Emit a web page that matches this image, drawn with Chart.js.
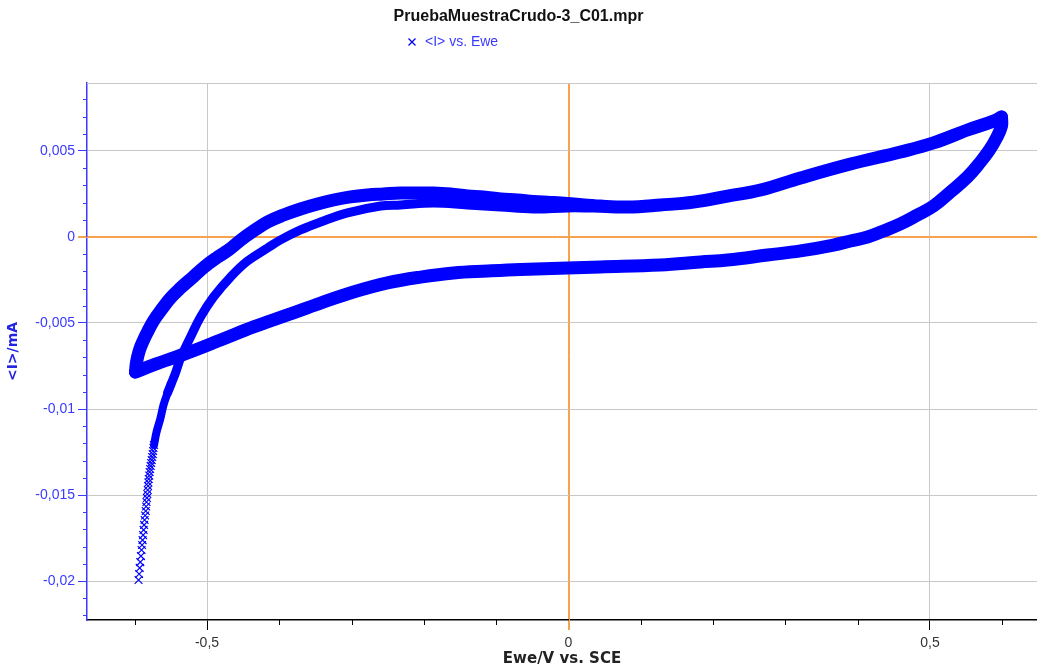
<!DOCTYPE html>
<html>
<head>
<meta charset="utf-8">
<title>PruebaMuestraCrudo-3_C01.mpr</title>
<script src="https://cdn.jsdelivr.net/npm/chart.js"></script>
<style>
  body { margin: 0; background: #fff; overflow: hidden; }
  #wrap { width: 1037px; height: 670px; }
</style>
</head>
<body>
<div id="wrap"><canvas id="cv"></canvas></div>
<script>
// Ewe (V vs. SCE) and <I> (mA)

// first points of the scan, current still changing fast
const startEwe = [-0.5947, -0.5939, -0.5931, -0.5923, -0.5914, -0.5906, -0.5898, -0.5891, -0.5884, -0.5877, -0.5870,
  -0.5863, -0.5856, -0.5848, -0.5842, -0.5837, -0.5831, -0.5826, -0.5820, -0.5815, -0.5811, -0.5806,
  -0.5799, -0.5793, -0.5786, -0.5779, -0.5772, -0.5765, -0.5758, -0.5751, -0.5746, -0.5740, -0.5733];
const startI = [-0.01994, -0.01959, -0.01924, -0.01890, -0.01855, -0.01820, -0.01791, -0.01762, -0.01733, -0.01703, -0.01674,
  -0.01645, -0.01619, -0.01593, -0.01567, -0.01541, -0.01517, -0.01494, -0.01471, -0.01448, -0.01427, -0.01407,
  -0.01387, -0.01366, -0.01349, -0.01331, -0.01314, -0.01297, -0.01279, -0.01262, -0.01244, -0.01227, -0.01209];

// first anodic sweep (inner curve)
const firstEwe = [-0.5733, -0.5698, -0.5643, -0.5602, -0.5546, -0.5491, -0.5436, -0.5367, -0.5297, -0.5228, -0.5090,
  -0.4910, -0.4675, -0.4440, -0.4163, -0.3983, -0.3707, -0.3430, -0.3057, -0.2600, -0.2324, -0.1867, -0.1397,
  -0.0941, -0.0484, -0.0014, 0.0443, 0.0816, 0.1272, 0.1729, 0.2199, 0.2656, 0.3209, 0.3900, 0.4592, 0.5048,
  0.5519, 0.5878, 0.5989];
const firstI = [-0.01209, -0.01134, -0.01052, -0.00977, -0.00907, -0.00849, -0.00791, -0.00704, -0.00640, -0.00581, -0.00465,
  -0.00349, -0.00233, -0.00140, -0.00064, -0.00017, 0.00041, 0.00087, 0.00140, 0.00180, 0.00186, 0.00198, 0.00186,
  0.00174, 0.00163, 0.00169, 0.00169, 0.00174, 0.00186, 0.00203, 0.00238, 0.00273, 0.00343, 0.00424, 0.00494, 0.00547,
  0.00622, 0.00674, 0.00698];

// cathodic sweeps
const backEwe = [0.5989, 0.5989, 0.5920, 0.5823, 0.5698, 0.5519, 0.5284, 0.5048, 0.4827, 0.4592, 0.4357, 0.4136,
  0.3900, 0.3665, 0.3209, 0.2752, 0.2199, 0.1826, 0.1272, 0.0443, -0.0014, -0.0664, -0.1120, -0.1591, -0.2047,
  -0.2503, -0.2974, -0.3430, -0.3887, -0.4357, -0.4813, -0.5270, -0.5740, -0.5989];
const backI = [0.00698, 0.00645, 0.00576, 0.00506, 0.00436, 0.00349, 0.00262, 0.00180, 0.00128, 0.00076, 0.00035, 0,
  -0.00023, -0.00047, -0.00081, -0.00105, -0.00134, -0.00145, -0.00163, -0.00174, -0.00180, -0.00189, -0.00198, -0.00209, -0.00233,
  -0.00267, -0.00320, -0.00384, -0.00453, -0.00523, -0.00599, -0.00674, -0.00744, -0.00785];

// following anodic sweeps (outer curve)
const nextEwe = [-0.5989, -0.5975, -0.5934, -0.5878, -0.5823, -0.5740, -0.5643, -0.5505, -0.5367, -0.5194, -0.5038,
  -0.4871, -0.4703, -0.4530, -0.4357, -0.4163, -0.3942, -0.3707, -0.3472, -0.3250, -0.3015, -0.2780, -0.2559,
  -0.2324, -0.2089, -0.1867, -0.1632, -0.1397, -0.1176, -0.0941, -0.0705, -0.0484, -0.0249, -0.0014, 0.0443,
  0.0816, 0.1272, 0.1729, 0.2199, 0.2656, 0.3209, 0.3900, 0.4592, 0.5048, 0.5519, 0.5878, 0.5989];
const nextI = [-0.00785, -0.00727, -0.00657, -0.00599, -0.00552, -0.00488, -0.00430, -0.00355, -0.00297, -0.00233, -0.00174,
  -0.00122, -0.00076, -0.00017, 0.00035, 0.00087, 0.00128, 0.00163, 0.00192, 0.00215, 0.00233, 0.00244, 0.00250,
  0.00256, 0.00256, 0.00256, 0.00250, 0.00238, 0.00233, 0.00221, 0.00215, 0.00206, 0.00201, 0.00195, 0.00180,
  0.00174, 0.00186, 0.00203, 0.00238, 0.00273, 0.00343, 0.00424, 0.00494, 0.00547, 0.00622, 0.00674, 0.00698];

const xTicks = [-0.5, 0, 0.5];
const yTicks = [0.005, 0, -0.005, -0.01, -0.015, -0.02];
const xMinor = [-0.6, -0.4, -0.3, -0.2, -0.1, 0.1, 0.2, 0.3, 0.4, 0.6];
const yMinor = [0.008, 0.007, 0.006, 0.004, 0.003, 0.002, 0.001, -0.001, -0.002, -0.003, -0.004,
  -0.006, -0.007, -0.008, -0.009, -0.011, -0.012, -0.013, -0.014, -0.016, -0.017, -0.018, -0.019, -0.021, -0.022];

const font = "'Liberation Sans', Arial, sans-serif";
const wide = "'DejaVu Sans', sans-serif";
const blue = '#0000ff';
const axisBlue = '#3a3aff';
const orange = '#f7a24f';
const gray = '#c8c8c8';

const pts = (xs, ys) => xs.map((x, i) => ({ x: x, y: ys[i] }));
const fmt = v => String(v).replace('.', ',');
const isZero = c => c.tick && Math.abs(c.tick.value) < 1e-12;

function band(xs, ys, width) {
  return {
    data: pts(xs, ys),
    showLine: true,
    borderColor: blue,
    backgroundColor: blue,
    borderWidth: width,
    borderCapStyle: 'round',
    borderJoinStyle: 'round',
    pointRadius: 0,
    tension: 0.4
  };
}

// zero lines, minor ticks, top frame line and the legend line
const extras = {
  id: 'extras',
  beforeDatasetsDraw(chart) {
    const { ctx, chartArea: a, scales } = chart;
    const x0 = Math.round(scales.x.getPixelForValue(0)) + 0.5;
    const y0 = Math.round(scales.y.getPixelForValue(0)) + 0.5;
    ctx.save();
    ctx.lineWidth = 1;
    ctx.strokeStyle = orange;
    ctx.beginPath();
    ctx.moveTo(x0, a.top); ctx.lineTo(x0, a.bottom + 10);
    ctx.moveTo(a.left - 9, y0); ctx.lineTo(a.right, y0);
    ctx.stroke();
    ctx.restore();
  },
  afterDraw(chart) {
    const { ctx, chartArea: a, scales } = chart;
    ctx.save();
    ctx.lineWidth = 1;
    ctx.strokeStyle = gray;
    ctx.beginPath();
    ctx.moveTo(a.left, a.top + 0.5);
    ctx.lineTo(a.right, a.top + 0.5);
    ctx.stroke();

    ctx.strokeStyle = '#000';
    ctx.beginPath();
    xMinor.forEach(v => {
      const px = Math.round(scales.x.getPixelForValue(v)) + 0.5;
      ctx.moveTo(px, a.bottom);
      ctx.lineTo(px, a.bottom + 5);
    });
    ctx.stroke();

    ctx.strokeStyle = axisBlue;
    ctx.beginPath();
    yMinor.forEach(v => {
      const py = Math.round(scales.y.getPixelForValue(v)) + 0.5;
      ctx.moveTo(a.left - 4, py);
      ctx.lineTo(a.left, py);
    });
    ctx.stroke();

    // legend: x marker + label
    const lx = 412, ly = 42, r = 3.5;
    ctx.strokeStyle = blue;
    ctx.lineWidth = 1.3;
    ctx.beginPath();
    ctx.moveTo(lx - r, ly - r); ctx.lineTo(lx + r, ly + r);
    ctx.moveTo(lx - r, ly + r); ctx.lineTo(lx + r, ly - r);
    ctx.stroke();
    ctx.fillStyle = axisBlue;
    ctx.font = '14px ' + font;
    ctx.textBaseline = 'middle';
    ctx.fillText('<I> vs. Ewe', lx + 13, ly);
    ctx.restore();
  }
};

const inner = band(firstEwe, firstI, 9);
inner.segment = { borderWidth: c => c.p0DataIndex < 4 ? 8 : 9 };

new Chart(document.getElementById('cv'), {
  type: 'scatter',
  data: {
    datasets: [
      {
        label: '<I> vs. Ewe',
        data: pts(startEwe, startI),
        showLine: false,
        pointStyle: 'crossRot',
        pointRadius: 5.5,
        pointBorderWidth: 1.2,
        borderColor: blue,
        backgroundColor: blue
      },
      inner,
      band(backEwe, backI, 13),
      band(nextEwe, nextI, 13)
    ]
  },
  options: {
    responsive: true,
    maintainAspectRatio: false,
    animation: false,
    layout: { padding: 0, autoPadding: false },
    plugins: {
      legend: { display: false },
      tooltip: { enabled: false },
      title: {
        display: true,
        text: 'PruebaMuestraCrudo-3_C01.mpr',
        color: '#111',
        font: { family: font, size: 16, weight: 'bold', lineHeight: 1.2 },
        padding: { top: 7, bottom: 56.8 }
      }
    },
    scales: {
      x: {
        type: 'linear',
        min: -0.666,
        max: 0.648,
        afterBuildTicks: s => { s.ticks = xTicks.map(v => ({ value: v })); },
        afterFit: s => { s.height = 50; },
        grid: {
          color: c => isZero(c) ? orange : gray,
          tickColor: c => isZero(c) ? orange : '#000',
          tickLength: 10
        },
        border: { color: '#000', width: 1.5 },
        ticks: { color: '#333', font: { family: font, size: 14 }, padding: 5, maxRotation: 0, autoSkip: false, callback: fmt },
        title: {
          display: true,
          text: 'Ewe/V vs. SCE',
          color: '#222',
          font: { family: wide, size: 15, weight: 'bold' },
          padding: { top: 0, bottom: 2 }
        }
      },
      y: {
        type: 'linear',
        min: -0.022267,
        max: 0.008953,
        afterBuildTicks: s => { s.ticks = yTicks.map(v => ({ value: v })); },
        afterFit: s => { s.width = 87; },
        grid: {
          color: c => isZero(c) ? orange : gray,
          tickColor: c => isZero(c) ? orange : axisBlue,
          tickLength: 9
        },
        border: { color: axisBlue, width: 1.5 },
        ticks: { color: axisBlue, font: { family: font, size: 14 }, padding: 3, autoSkip: false, callback: fmt },
        title: {
          display: true,
          text: '<I>/mA',
          color: '#2323e6',
          font: { family: wide, size: 14, weight: 'bold' },
          padding: { top: 5, bottom: 0 }
        }
      }
    }
  },
  plugins: [extras]
});
</script>
</body>
</html>
